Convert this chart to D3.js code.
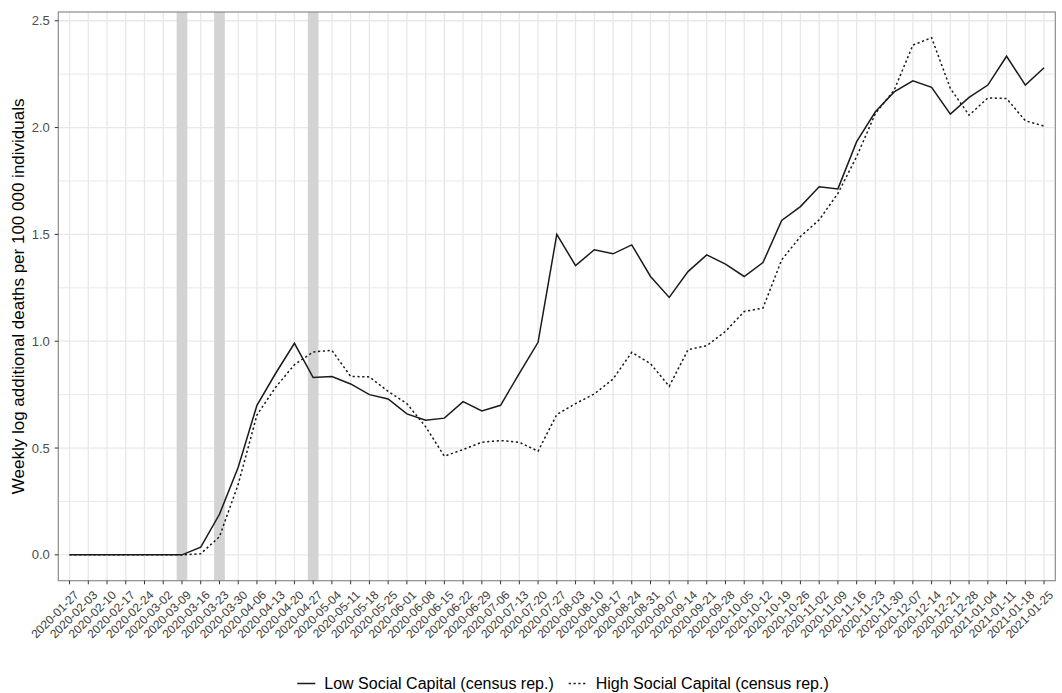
<!DOCTYPE html>
<html>
<head>
<meta charset="utf-8">
<script src="https://cdn.jsdelivr.net/npm/d3@7"></script>
<style>
  body { margin: 0; background: white; }
  text { font-family: "Liberation Sans", Arial, Helvetica, sans-serif; }
</style>
</head>
<body>
<div id="chart"></div>
<script>
let weeks = ["2020-01-27","2020-02-03","2020-02-10","2020-02-17","2020-02-24","2020-03-02","2020-03-09",
  "2020-03-16","2020-03-23","2020-03-30","2020-04-06","2020-04-13","2020-04-20","2020-04-27","2020-05-04",
  "2020-05-11","2020-05-18","2020-05-25","2020-06-01","2020-06-08","2020-06-15","2020-06-22","2020-06-29",
  "2020-07-06","2020-07-13","2020-07-20","2020-07-27","2020-08-03","2020-08-10","2020-08-17","2020-08-24",
  "2020-08-31","2020-09-07","2020-09-14","2020-09-21","2020-09-28","2020-10-05","2020-10-12","2020-10-19",
  "2020-10-26","2020-11-02","2020-11-09","2020-11-16","2020-11-23","2020-11-30","2020-12-07","2020-12-14",
  "2020-12-21","2020-12-28","2021-01-04","2021-01-11","2021-01-18","2021-01-25"];

let lowSC = [0, 0, 0, 0, 0, 0, 0, 0.036, 0.19, 0.41, 0.70, 0.85, 0.99, 0.83, 0.835, 0.80, 0.75, 0.73,
  0.66, 0.63, 0.64, 0.717, 0.674, 0.70, 0.85, 0.995, 1.50, 1.354, 1.428, 1.409, 1.451, 1.303, 1.205, 1.326,
  1.404, 1.361, 1.303, 1.368, 1.565, 1.630, 1.723, 1.713, 1.934, 2.074, 2.167, 2.219, 2.188, 2.063, 2.141,
  2.199, 2.334, 2.199, 2.280];

let highSC = [0, 0, 0, 0, 0, 0, 0, 0.005, 0.085, 0.33, 0.655, 0.785, 0.89, 0.95, 0.957, 0.835, 0.833, 0.765,
  0.708, 0.60, 0.462, 0.493, 0.527, 0.535, 0.527, 0.485, 0.657, 0.708, 0.753, 0.823, 0.948, 0.895, 0.789, 0.96,
  0.979, 1.046, 1.139, 1.155, 1.381, 1.490, 1.568, 1.692, 1.864, 2.066, 2.175, 2.386, 2.421, 2.183, 2.058,
  2.139, 2.136, 2.032, 2.007];

let bandWeeks = ["2020-03-09", "2020-03-23", "2020-04-27"];
let yTicks = [0, 0.5, 1.0, 1.5, 2.0, 2.5];
let yMinor = [0.25, 0.75, 1.25, 1.75, 2.25];

let seriesNames = ["Low Social Capital (census rep.)", "High Social Capital (census rep.)"];

let width = 1062, height = 693;
let margin = { top: 12, right: 6.7, bottom: 112.3, left: 58.3 };
let pw = width - margin.left - margin.right;
let ph = height - margin.top - margin.bottom;

let x = d3.scalePoint()
  .domain(weeks)
  .range([0, pw])
  .padding(0.6);

let y = d3.scaleLinear()
  .domain([-0.121, 2.541])
  .range([ph, 0]);

const svg = d3.select("#chart").append("svg")
  .attr("width", width)
  .attr("height", height);

const g = svg.append("g").attr("transform", `translate(${margin.left} ${margin.top})`);

g.append("rect").attr("width", pw).attr("height", ph).attr("fill", "white");

// grid
g.selectAll(".ymin").data(yMinor).enter().append("line")
  .attr("x1", 0).attr("x2", pw)
  .attr("y1", d => y(d)).attr("y2", d => y(d))
  .attr("stroke", "#e8e8e8").attr("stroke-width", 1);
g.selectAll(".ymaj").data(yTicks).enter().append("line")
  .attr("x1", 0).attr("x2", pw)
  .attr("y1", d => y(d)).attr("y2", d => y(d))
  .attr("stroke", "#e8e8e8").attr("stroke-width", 1.3);
g.selectAll(".xmaj").data(weeks).enter().append("line")
  .attr("x1", d => x(d)).attr("x2", d => x(d))
  .attr("y1", 0).attr("y2", ph)
  .attr("stroke", "#e8e8e8").attr("stroke-width", 1.3);

// lockdown bands
let bw = 10.7;
g.selectAll(".band").data(bandWeeks).enter().append("rect")
  .attr("x", d => x(d) - bw / 2)
  .attr("width", bw)
  .attr("y", 0)
  .attr("height", ph)
  .attr("fill", "#d3d3d3");

let line = d3.line()
  .x((d, i) => x(weeks[i]))
  .y(d => y(d));

g.append("path").datum(lowSC)
  .attr("d", line)
  .attr("fill", "none")
  .attr("stroke", "#1a1a1a")
  .attr("stroke-width", 1.5);

g.append("path").datum(highSC)
  .attr("d", line)
  .attr("fill", "none")
  .attr("stroke", "#1a1a1a")
  .attr("stroke-width", 1.5)
  .attr("stroke-dasharray", "2.2,2.6");

g.append("rect").attr("width", pw).attr("height", ph)
  .attr("fill", "none").attr("stroke", "#8c8c8c").attr("stroke-width", 1.2);

// y axis
let yAxis = g.append("g");
yAxis.selectAll("line").data(yTicks).enter().append("line")
  .attr("x1", -3.6).attr("x2", 0)
  .attr("y1", d => y(d)).attr("y2", d => y(d))
  .attr("stroke", "#333").attr("stroke-width", 1);
yAxis.selectAll("text").data(yTicks).enter().append("text")
  .attr("x", -8.5)
  .attr("y", d => y(d))
  .attr("dy", "0.35em")
  .attr("text-anchor", "end")
  .attr("fill", "#4d4d4d")
  .style("font-size", "13px")
  .text(d => d3.format(".1f")(d));

// x axis
let xAxis = g.append("g").attr("transform", `translate(0 ${ph})`);
xAxis.selectAll("line").data(weeks).enter().append("line")
  .attr("x1", d => x(d)).attr("x2", d => x(d))
  .attr("y1", 0).attr("y2", 3.6)
  .attr("stroke", "#333").attr("stroke-width", 1);
xAxis.selectAll("text").data(weeks).enter().append("text")
  .attr("transform", d => `translate(${x(d) + 10} ${15}) rotate(-45)`)
  .attr("text-anchor", "end")
  .attr("fill", "#3d3d3d")
  .style("font-size", "12px")
  .text(d => d);

// y title
svg.append("text")
  .attr("transform", `translate(24 ${margin.top + ph / 2}) rotate(-90)`)
  .attr("text-anchor", "middle")
  .attr("fill", "black")
  .style("font-size", "17px")
  .text("Weekly log additional deaths per 100 000 individuals");

// legend
let legend = svg.append("g");
let keyW = 18, keyGap = 9, itemGap = 15, legY = 689;
let items = seriesNames.map((name, i) => {
  let t = legend.append("text")
    .attr("y", legY)
    .attr("fill", "black")
    .style("font-size", "16px")
    .text(name);
  return { t: t, w: t.node().getComputedTextLength(), dash: i === 1 };
});
let total = d3.sum(items, d => d.w + keyW + keyGap) + itemGap;
let lx = 563 - total / 2;
items.forEach(d => {
  legend.append("line")
    .attr("x1", lx).attr("x2", lx + keyW)
    .attr("y1", legY - 5.5).attr("y2", legY - 5.5)
    .attr("stroke", "#1a1a1a").attr("stroke-width", 1.5)
    .attr("stroke-dasharray", d.dash ? "2.2,2.6" : null);
  d.t.attr("x", lx + keyW + keyGap);
  lx += keyW + keyGap + d.w + itemGap;
});
</script>
</body>
</html>
